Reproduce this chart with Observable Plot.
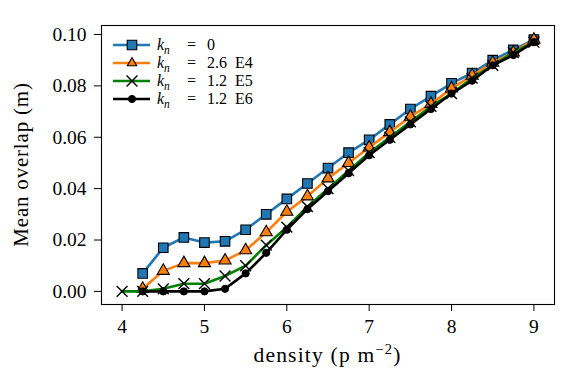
<!DOCTYPE html>
<html>
<head>
<meta charset="utf-8">
<script src="https://cdn.jsdelivr.net/npm/d3@7"></script>
<script src="https://cdn.jsdelivr.net/npm/@observablehq/plot@0.6"></script>
<style>
  html, body { margin: 0; padding: 0; background: #fff; }
  #chart svg { display: block; }
</style>
</head>
<body>
<div id="chart"></div>
<script>
// Data
const densityFull = [4.0, 4.25, 4.5, 4.75, 5.0, 5.25, 5.5, 5.75, 6.0, 6.25, 6.5, 6.75, 7.0, 7.25, 7.5, 7.75, 8.0, 8.25, 8.5, 8.75, 9.0];
const density = densityFull.slice(1);

const overlapK0 = [0.007, 0.017, 0.021, 0.019, 0.0195, 0.024, 0.030, 0.036, 0.042, 0.048, 0.054, 0.059, 0.065, 0.071, 0.076, 0.081, 0.085, 0.090, 0.094, 0.098];
const overlapK26E4 = [0.001, 0.008, 0.011, 0.011, 0.012, 0.016, 0.023, 0.031, 0.037, 0.044, 0.050, 0.056, 0.062, 0.068, 0.073, 0.079, 0.084, 0.089, 0.093, 0.098];
const overlapK12E5 = [0.000, 0.000, 0.001, 0.003, 0.003, 0.006, 0.010, 0.018, 0.025, 0.033, 0.040, 0.047, 0.054, 0.060, 0.066, 0.072, 0.077, 0.083, 0.088, 0.093, 0.097];
const overlapK12E6 = [0.000, 0.000, 0.000, 0.000, 0.001, 0.007, 0.015, 0.024, 0.032, 0.039, 0.046, 0.053, 0.059, 0.065, 0.071, 0.077, 0.082, 0.088, 0.092, 0.097];

const seriesNames = ["k_n = 0", "k_n = 2.6 E4", "k_n = 1.2 E5", "k_n = 1.2 E6"];
const legendNum = ["0", "2.6", "1.2", "1.2"];
const legendExp = ["", "E4", "E5", "E6"];
const seriesColors = ["#1f77b4", "#ff7f0e", "#008000", "#000000"];
const seriesSymbols = ["square", "triangle", "times", "circle"];
const seriesFills = ["#1f77b4", "#ff7f0e", "none", "#000000"];

const xTicks = [4, 5, 6, 7, 8, 9];
const yTicks = [0.00, 0.02, 0.04, 0.06, 0.08, 0.10];

const seriesX = [density, density, densityFull, density];
const seriesY = [overlapK0, overlapK26E4, overlapK12E5, overlapK12E6];

const FONT = "'Liberation Serif', 'DejaVu Serif', serif";
const SIZES = {square: 5.4, triangle: 4.5, times: 5.0, circle: 3.6};

const marks = [];
seriesY.forEach((ys, i) => {
  const data = ys.map((v, j) => ({x: seriesX[i][j], y: v}));
  marks.push(Plot.line(data, {x: "x", y: "y", stroke: seriesColors[i], strokeWidth: 2.6}));
  const sym = seriesSymbols[i];
  if (sym === "times") {
    marks.push(Plot.dot(data, {x: "x", y: "y", symbol: "times", r: SIZES.times, stroke: "#000", strokeWidth: 1.4}));
  } else if (sym === "circle") {
    marks.push(Plot.dot(data, {x: "x", y: "y", symbol: "circle", r: SIZES.circle, fill: "#000", stroke: "#000", strokeWidth: 1}));
  } else {
    marks.push(Plot.dot(data, {x: "x", y: "y", symbol: sym, r: SIZES[sym], fill: seriesFills[i], stroke: "#000", strokeWidth: 1.1}));
  }
});

const chart = Plot.plot({
  width: 581,
  height: 389,
  marginLeft: 101,
  marginRight: 27,
  marginTop: 25,
  marginBottom: 85,
  style: {fontFamily: FONT, fontSize: "19.5px", color: "#000", background: "#fff"},
  x: {domain: [3.75, 9.25], label: null},
  y: {domain: [-0.0051, 0.1035], label: null},
  marks: [
    Plot.axisX({ticks: xTicks, tickFormat: d3.format("d"), tickSize: 7, tickPadding: 8, label: null, fontSize: 19.5}),
    Plot.axisY({ticks: yTicks, tickFormat: d3.format(".2f"), tickSize: 7, tickPadding: 8, label: null, fontSize: 19.5}),
    ...marks,
    Plot.frame({stroke: "#000", strokeWidth: 1.1})
  ]
});

document.getElementById("chart").appendChild(chart);

// Axis titles and legend
const svg = d3.select(chart);
const xLab = svg.append("text")
  .attr("x", 101 + (581 - 101 - 27) / 2).attr("y", 362)
  .attr("text-anchor", "middle")
  .style("font-family", FONT).style("font-size", "21.5px").style("letter-spacing", "1.2px").attr("fill", "#000");
xLab.append("tspan").text("density (p m");
xLab.append("tspan").attr("dy", -8).style("font-size", "14.5px").text("\u22122");
xLab.append("tspan").attr("dy", 8).text(")");

svg.append("text")
  .attr("transform", `translate(28, ${25 + (389 - 25 - 85) / 2}) rotate(-90)`)
  .attr("text-anchor", "middle")
  .style("font-family", FONT).style("font-size", "21px").style("letter-spacing", "0.8px").attr("fill", "#000")
  .text("Mean overlap (m)");

const leg = svg.append("g");
const rowY = [45, 63, 81, 99];
seriesNames.forEach((name, i) => {
  const y = rowY[i];
  leg.append("line").attr("x1", 113).attr("x2", 150).attr("y1", y).attr("y2", y)
    .attr("stroke", seriesColors[i]).attr("stroke-width", 2.6);
  const sym = seriesSymbols[i];
  let path, attrs;
  if (sym === "square") { path = d3.symbol(d3.symbolSquare, Math.PI * SIZES.square ** 2)(); attrs = {fill: seriesFills[i], stroke: "#000", sw: 1.1}; }
  else if (sym === "triangle") { path = d3.symbol(d3.symbolTriangle2, Math.PI * SIZES.triangle ** 2)(); attrs = {fill: seriesFills[i], stroke: "#000", sw: 1.1}; }
  else if (sym === "times") { path = d3.symbol(d3.symbolTimes, Math.PI * SIZES.times ** 2)(); attrs = {fill: "none", stroke: "#000", sw: 1.4}; }
  else { path = d3.symbol(d3.symbolCircle, Math.PI * SIZES.circle ** 2)(); attrs = {fill: "#000", stroke: "#000", sw: 1}; }
  leg.append("path").attr("d", path).attr("transform", `translate(132,${y})`)
    .attr("fill", attrs.fill).attr("stroke", attrs.stroke).attr("stroke-width", attrs.sw);
  const t = leg.append("text").attr("y", y + 5)
    .attr("text-anchor", "start")
    .style("font-family", FONT).style("font-size", "16px").attr("fill", "#000");
  t.append("tspan").attr("x", 157).style("font-style", "italic").text("k");
  t.append("tspan").attr("dy", 4).style("font-style", "italic").style("font-size", "11.5px").text("n");
  t.append("tspan").attr("x", 187).attr("dy", -4).text("=");
  t.append("tspan").attr("x", 207).text(legendNum[i]);
  if (legendExp[i]) t.append("tspan").attr("x", 235).text(legendExp[i]);
});
</script>
</body>
</html>
